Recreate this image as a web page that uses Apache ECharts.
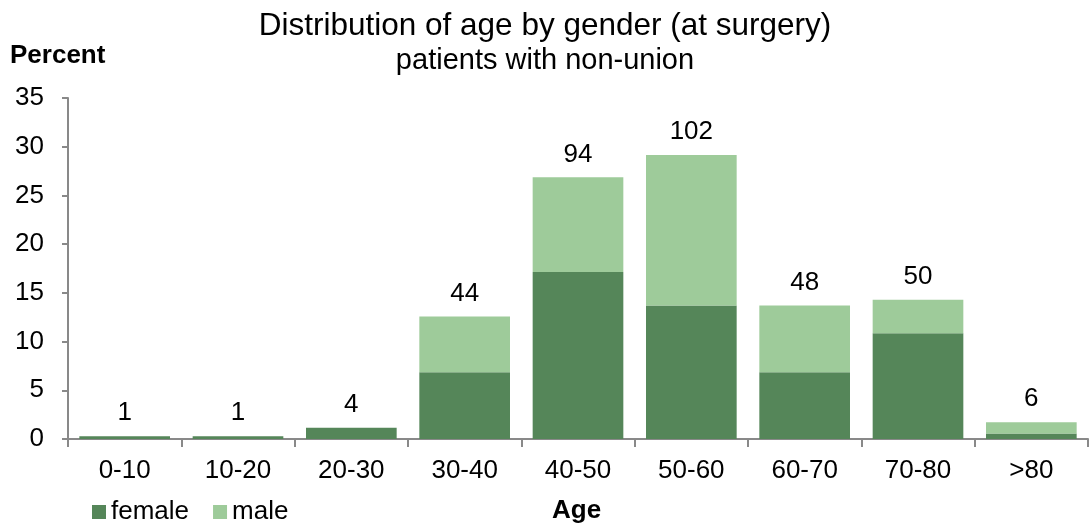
<!DOCTYPE html>
<html>
<head>
<meta charset="utf-8">
<script src="https://cdn.jsdelivr.net/npm/echarts@6/dist/echarts.min.js"></script>
<style>
  html, body { margin: 0; padding: 0; background: #fff; }
  #chart { width: 1090px; height: 527px; }
</style>
</head>
<body>
<div id="chart"></div>
<script>
// Age groups at surgery
const ageGroups = ['0-10', '10-20', '20-30', '30-40', '40-50', '50-60', '60-70', '70-80', '>80'];
// Patient counts per age group
const femaleCounts = [1, 1, 4, 24, 60, 48, 24, 38, 2];
const maleCounts   = [0, 0, 0, 20, 34, 54, 24, 12, 4];
const yTicks = [0, 5, 10, 15, 20, 25, 30, 35];

const totals = ageGroups.map((_, i) => femaleCounts[i] + maleCounts[i]);
const allPatients = totals.reduce((a, b) => a + b, 0);
const toPercent = c => c / allPatients * 100;

const font = '"Liberation Sans", Arial, sans-serif';
const axisGrey = '#898989';

const chart = echarts.init(document.getElementById('chart'), null, { renderer: 'canvas' });

chart.setOption({
  animation: false,
  backgroundColor: '#ffffff',
  title: {
    text: 'Distribution of age by gender (at surgery)',
    subtext: 'patients with non-union',
    left: 'center',
    top: 5,
    itemGap: 4,
    textStyle: { fontFamily: font, fontSize: 31.5, fontWeight: 'normal', color: '#000' },
    subtextStyle: { fontFamily: font, fontSize: 29, color: '#000' }
  },
  legend: {
    left: 87,
    top: 494,
    itemWidth: 14,
    itemHeight: 14,
    itemGap: 24,
    icon: 'rect',
    textStyle: { fontFamily: font, fontSize: 26, color: '#000' },
    data: ['female', 'male']
  },
  grid: { left: 68, right: 2, top: 98, bottom: 88 },
  xAxis: {
    type: 'category',
    data: ageGroups,
    axisLine: { lineStyle: { color: axisGrey, width: 2 } },
    axisTick: { show: true, length: 8, lineStyle: { color: axisGrey, width: 2 } },
    axisLabel: { fontFamily: font, fontSize: 26, color: '#000', margin: 19 }
  },
  yAxis: {
    type: 'value',
    min: 0,
    max: 35,
    interval: 5,
    axisLine: { show: true, lineStyle: { color: axisGrey, width: 2 } },
    axisTick: { show: true, length: 6, lineStyle: { color: axisGrey, width: 2 } },
    splitLine: { show: false },
    axisLabel: {
      fontFamily: font, fontSize: 26, color: '#000', margin: 24,
      formatter: v => (yTicks.includes(v) ? String(v) : '')
    }
  },
  series: [
    {
      name: 'female',
      type: 'bar',
      stack: 'age',
      barCategoryGap: '20%',
      itemStyle: { color: '#558659' },
      data: femaleCounts.map(toPercent)
    },
    {
      name: 'male',
      type: 'bar',
      stack: 'age',
      barCategoryGap: '20%',
      itemStyle: { color: '#9ecb9a' },
      label: {
        show: true,
        position: 'top',
        distance: 10,
        fontFamily: font,
        fontSize: 26,
        color: '#000',
        formatter: p => String(totals[p.dataIndex])
      },
      data: maleCounts.map(toPercent)
    }
  ],
  graphic: [
    {
      type: 'text',
      left: 10,
      top: 43,
      style: { text: 'Percent', font: 'bold 26px ' + font, fill: '#000' }
    },
    {
      type: 'text',
      left: 552,
      top: 498,
      style: { text: 'Age', font: 'bold 26px ' + font, fill: '#000' }
    }
  ]
});
</script>
</body>
</html>
